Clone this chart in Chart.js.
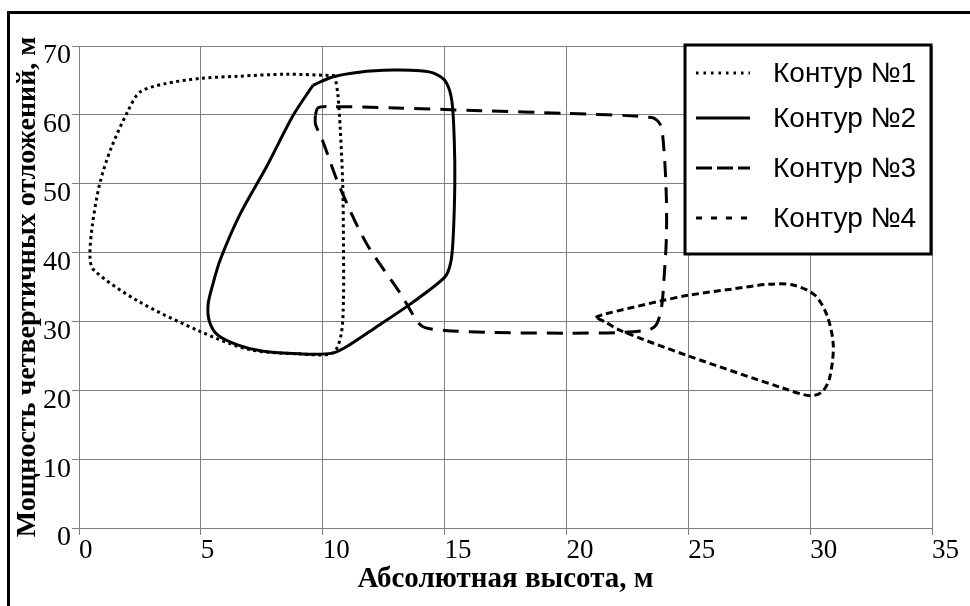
<!DOCTYPE html>
<html>
<head>
<meta charset="utf-8">
<script src="https://cdn.jsdelivr.net/npm/chart.js@4.4.1/dist/chart.umd.min.js"></script>
<style>
  html, body { margin: 0; padding: 0; background: #fff; }
  canvas { display: block; }
</style>
</head>
<body>
<canvas id="chart" width="970" height="606"></canvas>
<script>
// tick values
const xTicks = [0, 5, 10, 15, 20, 25, 30, 35];
const yTicks = [0, 10, 20, 30, 40, 50, 60, 70];

const seriesLabels = ['Контур №1', 'Контур №2', 'Контур №3', 'Контур №4'];

// contours, [x, y] pairs, closed loops
const contour1 = [
  [10.5, 65.7], [8.5, 65.9], [6.5, 65.6], [5.0, 65.3], [3.5, 64.5], [2.5, 63.3],
  [2.0, 60.5], [1.3, 55], [0.85, 50], [0.55, 44], [0.45, 39.5], [0.6, 37.5],
  [2.4, 33], [5.0, 28.5], [7.0, 25.9], [9.0, 25.3], [10.4, 25.4], [10.75, 28],
  [10.85, 33], [10.85, 42], [10.82, 50], [10.72, 58], [10.62, 63], [10.5, 65.7]
];
const contour2 = [
  [9.6, 64.3], [10.4, 65.5], [11.5, 66.2], [12.9, 66.5], [14.0, 66.4], [14.6, 66.0],
  [15.05, 64.8], [15.3, 62], [15.4, 56], [15.42, 50], [15.35, 42], [15.25, 38.5],
  [15.0, 36.4], [13.5, 32.3], [12.2, 29.2], [11.1, 26.6], [10.4, 25.4],
  [9.0, 25.3], [7.5, 25.7], [6.5, 26.6], [5.7, 28.0], [5.35, 30],
  [5.3, 32.5], [5.5, 35.5], [5.8, 39], [6.6, 45.5], [7.7, 52.5], [8.8, 60], [9.6, 64.3]
];
const contour3 = [
  [9.7, 60.0], [9.8, 61.0], [10.2, 61.2], [13, 61.0], [16.5, 60.6], [20, 60.2],
  [23.5, 59.6], [23.85, 58.6], [24.0, 55], [24.1, 48], [24.1, 42], [24.0, 36],
  [23.9, 32], [23.7, 29.6], [23.4, 28.8], [22.2, 28.4], [20, 28.3], [17, 28.4],
  [15, 28.7], [14.2, 29.1], [13.9, 29.9], [13.2, 34], [11.8, 41.3], [10.7, 49.5],
  [10.0, 56.2], [9.7, 58.7], [9.7, 60.0]
];
const contour4 = [
  [21.2, 30.6], [21.5, 31.0], [23.9, 33.0], [25.0, 33.8], [26.8, 34.7], [28.3, 35.4],
  [29.3, 35.3], [30.2, 33.8], [30.7, 30.8], [30.95, 26.5], [30.8, 21.8], [30.5, 19.8],
  [30.0, 19.2], [28.9, 20.3], [25.0, 25.0], [22.2, 28.7], [21.6, 29.9],
  [21.2, 30.6]
];

const plotDashes = [[3, 3.5], [], [16, 10], [7, 4]];
const legendDashes = [[2.5, 5], [], [16, 5], [6, 9]];

const toPoints = arr => arr.map(([x, y]) => ({ x, y }));

const frame = {
  id: 'frame',
  beforeDraw(chart) {
    const ctx = chart.ctx;
    ctx.save();
    ctx.fillStyle = '#ffffff';
    ctx.fillRect(0, 0, chart.width, chart.height);
    ctx.strokeStyle = '#000';
    ctx.lineWidth = 3;
    ctx.beginPath();
    ctx.moveTo(7, 12.5);
    ctx.lineTo(chart.width, 12.5);
    ctx.moveTo(8.5, 11);
    ctx.lineTo(8.5, chart.height);
    ctx.stroke();
    ctx.restore();
  }
};

const boxLegend = {
  id: 'boxLegend',
  afterDraw(chart) {
    const ctx = chart.ctx;
    const left = 685, top = 45, right = 931, bottom = 254;
    const rows = [73, 118, 168, 218];
    ctx.save();
    ctx.fillStyle = '#fff';
    ctx.fillRect(left, top, right - left, bottom - top);
    ctx.strokeStyle = '#000';
    ctx.lineWidth = 3;
    ctx.strokeRect(left, top, right - left, bottom - top);
    ctx.font = '28px "Liberation Sans", Arial, sans-serif';
    ctx.textBaseline = 'middle';
    ctx.fillStyle = '#000';
    chart.data.datasets.forEach((ds, i) => {
      const y = rows[i];
      ctx.setLineDash(legendDashes[i]);
      ctx.lineWidth = 3;
      ctx.beginPath();
      ctx.moveTo(696, y);
      ctx.lineTo(750, y);
      ctx.stroke();
      ctx.setLineDash([]);
      ctx.fillText(ds.label, 773, y + 1);
    });
    ctx.restore();
  }
};

const serif = '"Liberation Serif", "Times New Roman", serif';
const gridColor = '#808080';

new Chart(document.getElementById('chart'), {
  type: 'scatter',
  data: {
    datasets: [contour1, contour2, contour3, contour4].map((c, i) => ({
      label: seriesLabels[i],
      data: toPoints(c),
      showLine: true,
      borderColor: '#000',
      borderWidth: 3,
      borderDash: plotDashes[i],
      borderCapStyle: 'butt',
      borderJoinStyle: 'round',
      tension: 0.3,
      pointRadius: 0,
      fill: false
    }))
  },
  options: {
    responsive: false,
    animation: false,
    layout: { padding: { left: 0, right: 38, top: 46, bottom: 0 } },
    plugins: {
      legend: { display: false },
      tooltip: { enabled: false }
    },
    scales: {
      x: {
        type: 'linear',
        min: 0,
        max: 35,
        afterBuildTicks: s => { s.ticks = xTicks.map(v => ({ value: v })); },
        afterFit: s => { s.height = 78; },
        grid: { color: gridColor, lineWidth: 1, tickLength: 7 },
        border: { color: gridColor },
        ticks: {
          align: 'start',
          padding: 0,
          color: '#000',
          font: { family: serif, size: 27 },
          maxRotation: 0
        },
        title: {
          display: true,
          text: 'Абсолютная высота, м',
          color: '#000',
          font: { family: serif, size: 29, weight: 'bold', lineHeight: 1 },
          padding: { top: 0, bottom: 12 }
        }
      },
      y: {
        type: 'linear',
        min: 0,
        max: 70,
        afterBuildTicks: s => { s.ticks = yTicks.map(v => ({ value: v })); },
        afterFit: s => { s.width = 79; },
        grid: { color: gridColor, lineWidth: 1, tickLength: 7 },
        border: { color: gridColor },
        ticks: {
          padding: 1,
          labelOffset: 10,
          color: '#000',
          font: { family: serif, size: 28 }
        },
        title: {
          display: true,
          text: 'Мощность четвертичных отложений, м',
          color: '#000',
          font: { family: serif, size: 28, weight: 'bold', lineHeight: 1 },
          padding: { top: 14, bottom: 0 }
        }
      }
    }
  },
  plugins: [frame, boxLegend]
});
</script>
</body>
</html>
